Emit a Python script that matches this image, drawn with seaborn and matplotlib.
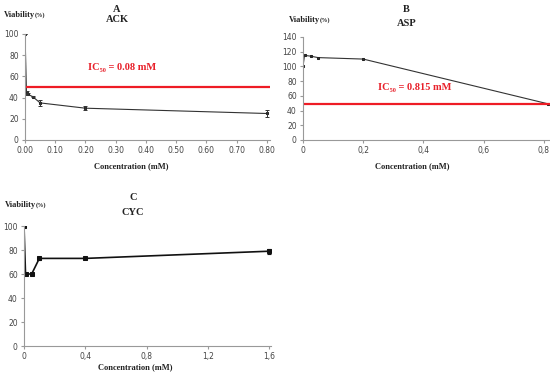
import matplotlib
matplotlib.use("Agg")
import matplotlib.pyplot as plt
import seaborn as sns
import pandas as pd

# Panel A - ACK
ack_conc = [0.0, 0.005, 0.01, 0.025, 0.05, 0.2, 0.8]
ack_via = [100, 44, 43, 41, 35, 30, 25]
ack_err = [0, 2, 1, 0.5, 3, 2, 3]
ack_ic50 = 50
ack_xticks = [0.0, 0.1, 0.2, 0.3, 0.4, 0.5, 0.6, 0.7, 0.8]
ack_xlabels = ["0.00", "0.10", "0.20", "0.30", "0.40", "0.50", "0.60", "0.70", "0.80"]

# Panel B - ASP
asp_conc = [0.0, 0.005, 0.025, 0.05, 0.2, 0.815]
asp_via = [100, 115, 114, 112, 110, 49]
asp_ic50 = 49
asp_xticks = [0.0, 0.2, 0.4, 0.6, 0.8]
asp_xlabels = ["0", "0,2", "0,4", "0,6", "0,8"]

# Panel C - CYC
cyc_conc = [0.0, 0.01, 0.05, 0.1, 0.4, 1.6]
cyc_via = [100, 60, 60, 73, 73, 79]
cyc_err = [0, 1, 1, 1, 0.5, 2]
cyc_xticks = [0.0, 0.4, 0.8, 1.2, 1.6]
cyc_xlabels = ["0", "0,4", "0,8", "1,2", "1,6"]

sns.set_theme(style="ticks")
serif = ["Liberation Serif", "DejaVu Serif"]
plt.rcParams["font.family"] = ["DejaVu Sans"]

W, H = 550, 374
fig = plt.figure(figsize=(5.5, 3.74), dpi=100)

def ax_at(l, r, t, b):
    return fig.add_axes([l / W, 1 - b / H, (r - l) / W, (b - t) / H])

axA = ax_at(25, 270, 34, 140)
axB = ax_at(303, 550, 37, 140)
axC = ax_at(24, 271, 226, 346)

def style(ax):
    sns.despine(ax=ax)
    for s in ["left", "bottom"]:
        ax.spines[s].set_color("#999999")
        ax.spines[s].set_linewidth(0.8)
    ax.tick_params(axis="both", labelsize=5.5, colors="#999999", labelcolor="#444444",
                   length=2.5, width=0.8, direction="out", pad=2)

# A
dfA = pd.DataFrame({"c": ack_conc, "v": ack_via})
sns.lineplot(data=dfA, x="c", y="v", ax=axA, color="#333333", lw=0.8,
             marker="s", markersize=2, markeredgecolor="#222222")
axA.errorbar(ack_conc, ack_via, yerr=ack_err, fmt="none", ecolor="#333333",
             elinewidth=0.7, capsize=1.5, capthick=0.7)
axA.axhline(ack_ic50, color="#ee1c25", lw=1.6)
axA.text(0.208, 68, "IC₅₀ = 0.08 mM", color="#e8202a", fontsize=7.5,
         fontweight="bold", family=serif, ha="left", va="center")
axA.set_xlim(0, 0.81)
axA.set_ylim(0, 100)
axA.set_xticks(ack_xticks)
axA.set_xticklabels(ack_xlabels)
axA.set_yticks(range(0, 101, 20))
style(axA)

# B
dfB = pd.DataFrame({"c": asp_conc, "v": asp_via})
sns.lineplot(data=dfB, x="c", y="v", ax=axB, color="#333333", lw=0.8,
             marker="s", markersize=1.8, markeredgecolor="#222222")
axB.axhline(asp_ic50, color="#ee1c25", lw=1.6)
axB.text(0.249, 72, "IC₅₀ = 0.815 mM", color="#e8202a", fontsize=7.5,
         fontweight="bold", family=serif, ha="left", va="center")
axB.set_xlim(0, 0.82)
axB.set_ylim(0, 140)
axB.set_xticks(asp_xticks)
axB.set_xticklabels(asp_xlabels)
axB.set_yticks(range(0, 141, 20))
style(axB)

# C
dfC = pd.DataFrame({"c": cyc_conc, "v": cyc_via})
sns.lineplot(data=dfC, x="c", y="v", ax=axC, color="#111111", lw=1.2,
             marker="s", markersize=2.3, markeredgecolor="#111111")
axC.errorbar(cyc_conc, cyc_via, yerr=cyc_err, fmt="none", ecolor="#111111",
             elinewidth=0.8, capsize=1.5, capthick=0.8)
axC.set_xlim(0, 1.61)
axC.set_ylim(0, 100)
axC.set_xticks(cyc_xticks)
axC.set_xticklabels(cyc_xlabels)
axC.set_yticks(range(0, 101, 20))
style(axC)

for ax in (axA, axB, axC):
    ax.set_xlabel("")
    ax.set_ylabel("")

def txt(x, y, s, size=7, ha="center"):
    return fig.text(x / W, 1 - y / H, s, fontsize=size, fontweight="bold", family=serif,
                    ha=ha, va="center", color="#222222")

def vlab(x, y):
    txt(x, y, "Viability", 6, ha="left")
    txt(x + 31, y, "(%)", 4.5, ha="left")

# labels / titles
txt(117, 10, "A", 7.5)
txt(117, 19, "ACK", 7.5)
vlab(4, 15)
txt(131, 166, "Concentration (mM)", 6)

txt(406, 10, "B", 7.5)
txt(407, 24, "ASP", 7.5)
vlab(289, 20)
txt(412, 166, "Concentration (mM)", 6)

txt(133, 198, "C", 7.5)
txt(133, 212, "CYC", 7.5)
vlab(5, 205)
txt(135, 367, "Concentration (mM)", 6)

fig.savefig("out.png", dpi=100, facecolor="white")
